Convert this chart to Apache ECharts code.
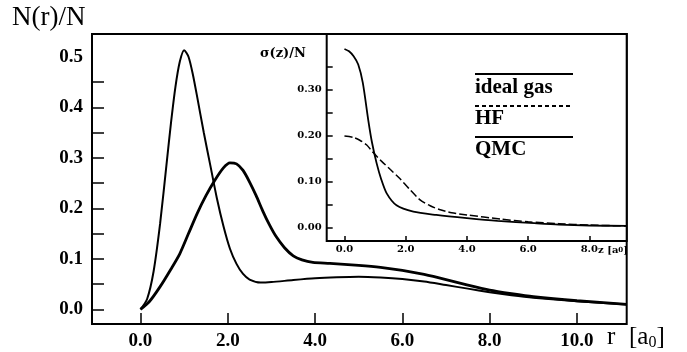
<!DOCTYPE html>
<html>
<head>
<meta charset="utf-8">
<script src="https://cdn.jsdelivr.net/npm/echarts@6/dist/echarts.min.js"></script>
<style>
html,body{margin:0;padding:0;background:#fff;}
#chart{width:687px;height:352px;}
</style>
</head>
<body>
<div id="chart"></div>
<script>
// ---- main panel: N(r)/N vs r [a0] ----
const rA = [0,0.15,0.3,0.45,0.6,0.7,0.8,0.9,1.0,1.1,1.2,1.3,1.45,1.6,1.75,1.9,2.05,2.2,2.35,2.5,2.75,3.0,3.5,4.0,4.5,5.0,5.5,6.0,6.5,7.0,7.5,8.0,8.5,9.0,10.0,11.14];
const nA = [0,0.02,0.075,0.17,0.29,0.37,0.44,0.49,0.513,0.5,0.465,0.42,0.35,0.285,0.22,0.165,0.12,0.09,0.07,0.059,0.053,0.054,0.058,0.0615,0.0635,0.0645,0.063,0.06,0.055,0.048,0.041,0.034,0.028,0.023,0.016,0.0095];
const rB = [0,0.2,0.45,0.7,0.9,1.1,1.3,1.5,1.7,1.9,2.05,2.2,2.35,2.5,2.65,2.8,2.95,3.1,3.3,3.5,3.7,3.95,4.34,5.0,5.5,6.0,6.5,7.0,7.5,8.0,8.5,9.0,10.0,11.14];
const nB = [0,0.015,0.045,0.08,0.11,0.15,0.19,0.225,0.255,0.28,0.29,0.288,0.275,0.252,0.225,0.195,0.168,0.145,0.122,0.106,0.098,0.093,0.091,0.087,0.083,0.077,0.069,0.059,0.048,0.038,0.031,0.025,0.017,0.010];
const mainXTicks = [0,2,4,6,8,10];
const mainYLabels = [0,0.1,0.2,0.3,0.4,0.5];
const mainYTicks = [0,0.05,0.1,0.15,0.2,0.25,0.3,0.35,0.4,0.45];

// ---- inset: sigma(z)/N vs z [a0] ----
const zS = [0,0.15,0.3,0.45,0.6,0.78,0.9,1.05,1.2,1.38,1.7,2.25,3.0,4.0,5.0,6.2,7.0,8.0,9.22];
const sS = [0.389,0.384,0.373,0.355,0.315,0.233,0.185,0.14,0.105,0.074,0.048,0.034,0.027,0.02,0.014,0.009,0.006,0.004,0.003];
const zD = [0,0.3,0.5,0.72,0.94,1.2,1.5,1.8,2.1,2.47,2.8,3.1,3.5,4.0,5.1,6.0,7.0,8.0,9.22];
const sD = [0.199,0.196,0.19,0.18,0.163,0.145,0.126,0.107,0.085,0.06,0.047,0.039,0.032,0.027,0.018,0.012,0.008,0.005,0.003];
const insetXTicks = [0,2,4,6,8];
const insetYLabels = [0,0.1,0.2,0.3];
const insetYTicks = [0,0.05,0.1,0.15,0.2,0.25,0.3,0.35];
const legendNames = ['ideal gas','HF','QMC'];

const pairs = (xs, ys) => xs.map((x, i) => [x, ys[i]]);
const SERIF = 'Liberation Serif';
const SERIF2 = 'DejaVu Serif';

const chart = echarts.init(document.getElementById('chart'), null, {renderer: 'canvas'});
const tickStyle = {color: '#000', width: 1.5};
const noLine = {show: false, onZero: false};

chart.setOption({
  animation: false,
  backgroundColor: '#fff',
  grid: [
    {left: 92, top: 34, width: 534.7, height: 290, show: true, borderColor: '#000', borderWidth: 2, backgroundColor: 'transparent'},
    {left: 326.7, top: 34, width: 300, height: 207, show: true, borderColor: '#000', borderWidth: 2, backgroundColor: '#fff'}
  ],
  xAxis: [
    {type: 'value', gridIndex: 0, min: -1.111, max: 11.14,
     axisLine: noLine, splitLine: {show: false},
     axisTick: {show: true, inside: true, length: 11, customValues: mainXTicks, lineStyle: tickStyle},
     axisLabel: {customValues: mainXTicks, formatter: v => v.toFixed(1), color: '#000', fontFamily: SERIF, fontWeight: 'bold', fontSize: 19, margin: 8}},
    {type: 'value', gridIndex: 1, min: -0.58, max: 9.22,
     axisLine: noLine, splitLine: {show: false},
     axisTick: {show: true, inside: true, length: 5, customValues: insetXTicks, lineStyle: tickStyle},
     axisLabel: {customValues: insetXTicks, formatter: v => v.toFixed(1), color: '#000', fontFamily: SERIF2, fontWeight: 'bold', fontSize: 10, margin: 3}}
  ],
  yAxis: [
    {type: 'value', gridIndex: 0, min: -0.029, max: 0.545,
     axisLine: noLine, splitLine: {show: false},
     axisTick: {show: true, inside: true, length: 12, customValues: mainYTicks, lineStyle: tickStyle},
     axisLabel: {customValues: mainYLabels, formatter: v => v.toFixed(1), color: '#000', fontFamily: SERIF, fontWeight: 'bold', fontSize: 19, margin: 9}},
    {type: 'value', gridIndex: 1, min: -0.0298, max: 0.4217,
     axisLine: noLine, splitLine: {show: false},
     axisTick: {show: true, inside: true, length: 6, customValues: insetYTicks, lineStyle: tickStyle},
     axisLabel: {customValues: insetYLabels, formatter: v => v.toFixed(2), color: '#000', fontFamily: SERIF2, fontWeight: 'bold', fontSize: 10, margin: 5}}
  ],
  series: [
    {type: 'line', xAxisIndex: 0, yAxisIndex: 0, data: pairs(rA, nA), smooth: 0.25, showSymbol: false,
     lineStyle: {color: '#000', width: 2}},
    {type: 'line', xAxisIndex: 0, yAxisIndex: 0, data: pairs(rB, nB), smooth: 0.25, showSymbol: false,
     lineStyle: {color: '#000', width: 2.8}},
    {type: 'line', xAxisIndex: 1, yAxisIndex: 1, data: pairs(zS, sS), smooth: 0.25, showSymbol: false,
     lineStyle: {color: '#000', width: 1.8}},
    {type: 'line', xAxisIndex: 1, yAxisIndex: 1, data: pairs(zD, sD), smooth: 0.25, showSymbol: false,
     lineStyle: {color: '#000', width: 1.5, type: [8, 3]}}
  ],
  graphic: [
    {type: 'text', left: 12, top: 4, style: {text: 'N(r)/N', font: '27px "Liberation Serif"', fill: '#000'}},
    {type: 'text', left: 607, top: 325, style: {text: 'r', font: '25px "Liberation Serif"', fill: '#000'}},
    {type: 'text', left: 629, top: 325, style: {text: '[a{s|0}]', font: '25px "Liberation Serif"', fill: '#000',
      rich: {s: {font: '16px "Liberation Serif"', verticalAlign: 'bottom', padding: [10, 0, 0, 0]}}}},
    {type: 'text', left: 260, top: 47, style: {text: 'σ(z)/N', font: 'bold 13px "DejaVu Serif"', fill: '#000'}},
    {type: 'text', left: 598, top: 245, style: {text: 'z [a{s|0}]', font: 'bold 10px "DejaVu Serif"', fill: '#000',
      rich: {s: {font: 'bold 7px "DejaVu Serif"'}}}},
    // legend keys inside the inset
    {type: 'line', shape: {x1: 475, y1: 74, x2: 573, y2: 74}, style: {stroke: '#000', lineWidth: 2}},
    {type: 'text', left: 475, top: 77, style: {text: legendNames[0], font: 'bold 21px "Liberation Serif"', fill: '#000'}},
    {type: 'line', shape: {x1: 475, y1: 106, x2: 573, y2: 106}, style: {stroke: '#000', lineWidth: 2, lineDash: [4, 3]}},
    {type: 'text', left: 475, top: 108, style: {text: legendNames[1], font: 'bold 21px "Liberation Serif"', fill: '#000'}},
    {type: 'line', shape: {x1: 475, y1: 137, x2: 573, y2: 137}, style: {stroke: '#000', lineWidth: 2}},
    {type: 'text', left: 475, top: 139, style: {text: legendNames[2], font: 'bold 21px "Liberation Serif"', fill: '#000'}}
  ]
});
</script>
</body>
</html>
